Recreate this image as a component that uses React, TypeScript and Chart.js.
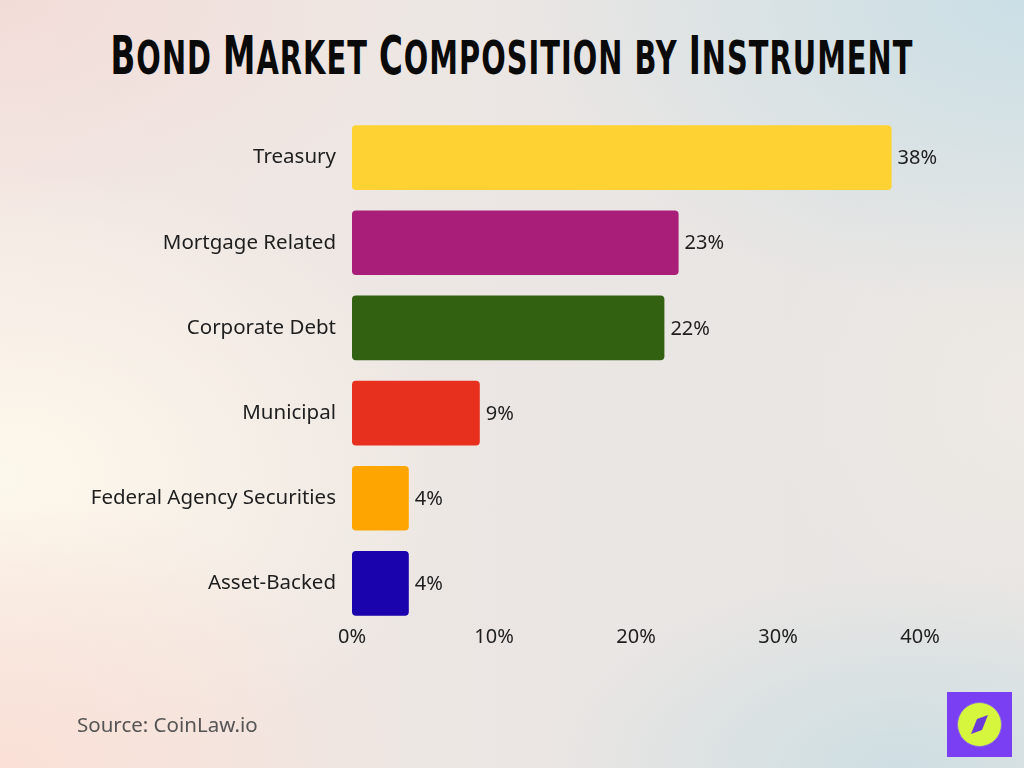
import React, { useEffect, useRef } from "react";
import { Chart, registerables } from "chart.js";

Chart.register(...registerables);

const categories = [
  "Treasury",
  "Mortgage Related",
  "Corporate Debt",
  "Municipal",
  "Federal Agency Securities",
  "Asset-Backed",
];
const shares = [38, 23, 22, 9, 4, 4];
const barColors = ["#fed233", "#a81e78", "#326112", "#e8301f", "#ffa502", "#1a02ad"];
const xTicks = [0, 10, 20, 30, 40];
const titleWords = ["Bond", "Market", "Composition", "by", "Instrument"];

const FONT = "'Noto Sans', 'Open Sans', sans-serif";

const valueLabels = {
  id: "valueLabels",
  afterDatasetsDraw(chart: any) {
    const { ctx } = chart;
    const meta = chart.getDatasetMeta(0);
    ctx.save();
    ctx.font = `20px ${FONT}`;
    ctx.fillStyle = "#1e1e1e";
    ctx.textAlign = "left";
    ctx.textBaseline = "middle";
    meta.data.forEach((bar: any, i: number) => {
      ctx.fillText(`${shares[i]}%`, bar.x + 6, bar.y + 1);
    });
    ctx.restore();
  },
};

export default function App() {
  const ref = useRef<HTMLCanvasElement | null>(null);
  useEffect(() => {
    if (!ref.current) return;
    const chart = new Chart(ref.current, {
      type: "bar",
      data: {
        labels: categories,
        datasets: [
          {
            data: shares,
            backgroundColor: barColors,
            borderRadius: 4,
            borderSkipped: false,
            barPercentage: 0.76,
            categoryPercentage: 1,
          },
        ],
      },
      options: {
        indexAxis: "y",
        animation: false,
        responsive: false,
        maintainAspectRatio: false,
        layout: { padding: { left: 0, right: 104, top: 115, bottom: 112 } },
        plugins: { legend: { display: false }, tooltip: { enabled: false } },
        scales: {
          x: {
            min: 0,
            max: 40,
            afterBuildTicks: (s: any) => {
              s.ticks = xTicks.map((v) => ({ value: v }));
            },
            afterFit: (s: any) => {
              s.height = 30;
            },
            grid: { display: false, drawTicks: false },
            border: { display: false },
            ticks: {
              padding: -1,
              color: "#1e1e1e",
              font: { family: FONT, size: 20 },
              callback: (v: any) => `${v}%`,
            },
          },
          y: {
            afterFit: (s: any) => {
              s.width = 352;
            },
            grid: { display: false, drawTicks: false },
            border: { display: false },
            ticks: {
              padding: 16,
              color: "#1e1e1e",
              font: { family: FONT, size: 20.5 },
            },
          },
        },
      },
      plugins: [valueLabels],
    });
    return () => chart.destroy();
  }, []);

  return (
    <div
      style={{
        position: "fixed",
        left: 0,
        top: 0,
        width: 1024,
        height: 768,
        overflow: "hidden",
        background: [
          "radial-gradient(ellipse 40% 35% at 0% 100%, rgba(250,224,214,1), rgba(250,224,214,0) 100%)",
          "radial-gradient(ellipse 45% 40% at 0% 62%, rgba(253,248,236,1), rgba(253,248,236,0) 100%)",
          "radial-gradient(ellipse 40% 30% at 0% 0%, rgba(242,220,216,1), rgba(242,220,216,0) 100%)",
          "radial-gradient(ellipse 50% 40% at 100% 0%, rgba(202,223,230,1), rgba(202,223,230,0) 100%)",
          "radial-gradient(ellipse 35% 25% at 88% 100%, rgba(206,222,226,1), rgba(206,222,226,0) 100%)",
          "radial-gradient(ellipse 25% 35% at 100% 52%, rgba(238,233,228,1), rgba(238,233,228,0) 100%)",
          "linear-gradient(90deg, #f3e8e3 0%, #ebe6e3 50%, #e6e5e3 100%)",
        ].join(", "),
      }}
    >
      <div
        style={{
          position: "absolute",
          left: -500,
          top: 26,
          width: 2024,
          textAlign: "center",
          fontFamily: "'DejaVu Sans Condensed', 'DejaVu Sans', sans-serif",
          fontWeight: 700,
          lineHeight: "60px",
          color: "#0a0a0a",
          letterSpacing: 1.5,
          whiteSpace: "nowrap",
          transform: "scaleX(0.682)",
        }}
      >
        {titleWords.map((w, i) => {
          const firstUpper = w[0] === w[0].toUpperCase();
          return (
            <span key={i}>
              <span style={{ fontSize: firstUpper ? 53 : 47 }}>{w[0].toUpperCase()}</span>
              <span style={{ fontSize: 47 }}>{w.slice(1).toUpperCase()}</span>
              {i < titleWords.length - 1 ? <span style={{ fontSize: 47 }}> </span> : null}
            </span>
          );
        })}
      </div>
      <canvas ref={ref} width={1024} height={768} style={{ position: "absolute", left: 0, top: 0 }} />
      <div
        style={{
          position: "absolute",
          left: 77,
          top: 710,
          fontFamily: FONT,
          fontSize: 20.5,
          color: "#555",
        }}
      >
        Source: CoinLaw.io
      </div>
      <svg
        width={65}
        height={65}
        viewBox="0 0 65 65"
        style={{ position: "absolute", left: 947, top: 692 }}
      >
        <rect x={0} y={0} width={65} height={65} fill="#7a3ff3" />
        <circle cx={32.5} cy={32.5} r={22} fill="#d6f53d" stroke="#8a6adf" strokeWidth={1} />
        <polygon points="41,23 35,38 24,42 30,27" fill="#6b3ad6" />
      </svg>
    </div>
  );
}
